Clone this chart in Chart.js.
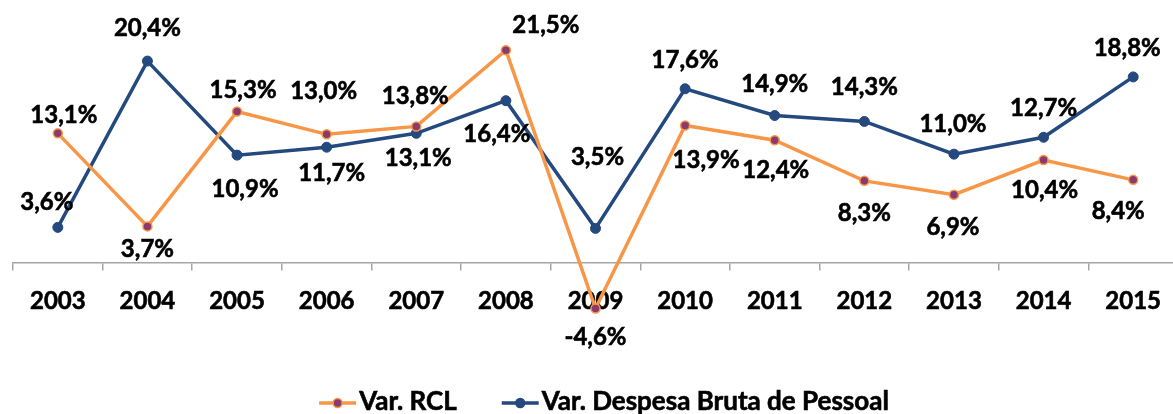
<!DOCTYPE html>
<html>
<head>
<meta charset="utf-8">
<script src="https://cdn.jsdelivr.net/npm/chart.js@4/dist/chart.umd.min.js"></script>
<style>
  html, body { margin: 0; padding: 0; background: #fff; overflow: hidden; }
  #wrap { width: 1184px; height: 414px; position: relative; }
</style>
</head>
<body>
<div id="wrap"><canvas id="c"></canvas></div>
<script>
const years = ['2003','2004','2005','2006','2007','2008','2009','2010','2011','2012','2013','2014','2015'];
const varRCL = [13.1, 3.7, 15.3, 13.0, 13.8, 21.5, -4.6, 13.9, 12.4, 8.3, 6.9, 10.4, 8.4];
const varDespesa = [3.6, 20.4, 10.9, 11.7, 13.1, 16.4, 3.5, 17.6, 14.9, 14.3, 11.0, 12.7, 18.8];
const seriesNames = ['Var. RCL', 'Var. Despesa Bruta de Pessoal'];

// label offsets (px) relative to each point, as placed in the original
const offRCL = [[6,-16],[0,25],[6,-19],[-3,-41],[-1,-28],[40,-23],[0,31],[21,37],[1,32],[0,34],[-1,35],[1,32],[-15,33]];
const offDesp = [[-11,-23],[0,-31],[8,36],[5,28],[2,27],[-9,36],[2,-69],[0,-27],[0,-29],[0,-32],[-1,-28],[0,-27],[-6,-27]];

const ORANGE = '#F79646', PURPLE = '#8B3A6E', BLUE = '#24497E';
const FONT = 'bold 24px Lato';
const LEGEND_FONT = 'bold 26px Lato';
const STROKE = 0.6;

const fmt = v => v.toFixed(1).replace('.', ',') + '%';

const labelPlugin = {
  id: 'pctLabels',
  afterDatasetsDraw(chart) {
    const ctx = chart.ctx;
    ctx.save();
    ctx.font = FONT;
    ctx.fillStyle = '#000';
    ctx.strokeStyle = '#000';
    ctx.lineWidth = STROKE;
    ctx.textAlign = 'center';
    ctx.textBaseline = 'middle';
    const offs = [offRCL, offDesp];
    chart.data.datasets.forEach((ds, di) => {
      const meta = chart.getDatasetMeta(di);
      meta.data.forEach((pt, i) => {
        const o = offs[di][i];
        const t = fmt(ds.data[i]);
        ctx.fillText(t, pt.x + o[0], pt.y + o[1] - 2);
        ctx.strokeText(t, pt.x + o[0], pt.y + o[1] - 2);
      });
    });
    ctx.restore();
  }
};

const legendPlugin = {
  id: 'lineLegend',
  afterDraw(chart) {
    const ctx = chart.ctx;
    ctx.save();
    ctx.font = LEGEND_FONT;
    const ds = chart.data.datasets;
    const lineW = 37, gapText = 3, gapItem = 45;
    const widths = ds.map(d => lineW + gapText + ctx.measureText(d.label).width);
    const total = widths.reduce((a,b)=>a+b,0) + gapItem*(ds.length-1);
    let x = 604 - total/2;
    const y = 403;
    ds.forEach((d, i) => {
      ctx.strokeStyle = d.borderColor;
      ctx.lineWidth = 3.5;
      ctx.beginPath(); ctx.moveTo(x, y); ctx.lineTo(x + lineW, y); ctx.stroke();
      ctx.beginPath(); ctx.arc(x + lineW/2, y, 4.5, 0, Math.PI*2);
      ctx.fillStyle = d.pointBackgroundColor; ctx.fill();
      ctx.lineWidth = 1.5; ctx.strokeStyle = d.pointBorderColor; ctx.stroke();
      ctx.fillStyle = '#000'; ctx.strokeStyle = '#000'; ctx.lineWidth = STROKE;
      ctx.textAlign = 'left'; ctx.textBaseline = 'middle';
      ctx.fillText(d.label, x + lineW + gapText, y - 1);
      ctx.strokeText(d.label, x + lineW + gapText, y - 1);
      x += widths[i] + gapItem;
    });
    ctx.restore();
  }
};

new Chart(document.getElementById('c'), {
  type: 'line',
  data: {
    labels: years,
    datasets: [
      { label: seriesNames[0], data: varRCL, borderColor: ORANGE, backgroundColor: ORANGE,
        borderWidth: 3.5, pointRadius: 4.5, pointBackgroundColor: PURPLE, pointBorderColor: ORANGE,
        pointBorderWidth: 1.5, tension: 0, clip: false },
      { label: seriesNames[1], data: varDespesa, borderColor: BLUE, backgroundColor: BLUE,
        borderWidth: 3.5, pointRadius: 5, pointBackgroundColor: BLUE, pointBorderColor: BLUE,
        pointBorderWidth: 1, tension: 0, clip: false }
    ]
  },
  options: {
    responsive: true,
    maintainAspectRatio: false,
    animation: false,
    devicePixelRatio: 1,
    layout: { padding: { left: 13, right: 1, top: 10, bottom: 60 } },
    plugins: { legend: { display: false }, tooltip: { enabled: false } },
    scales: {
      x: {
        position: { y: 0 },
        offset: true,
        grid: { offset: true, drawOnChartArea: false, drawTicks: true, tickLength: 7, color: '#A6A6A6', lineWidth: 1.5 },
        border: { display: true, color: '#A6A6A6', width: 1.5 },
        ticks: { font: { family: 'Lato', size: 24, weight: 'bold' }, color: '#000', padding: 17, maxRotation: 0, autoSkip: false,
                 textStrokeColor: '#000', textStrokeWidth: STROKE }
      },
      y: {
        display: false,
        min: -9.19,
        max: 25.56
      }
    }
  },
  plugins: [labelPlugin, legendPlugin]
});
</script>
</body>
</html>
